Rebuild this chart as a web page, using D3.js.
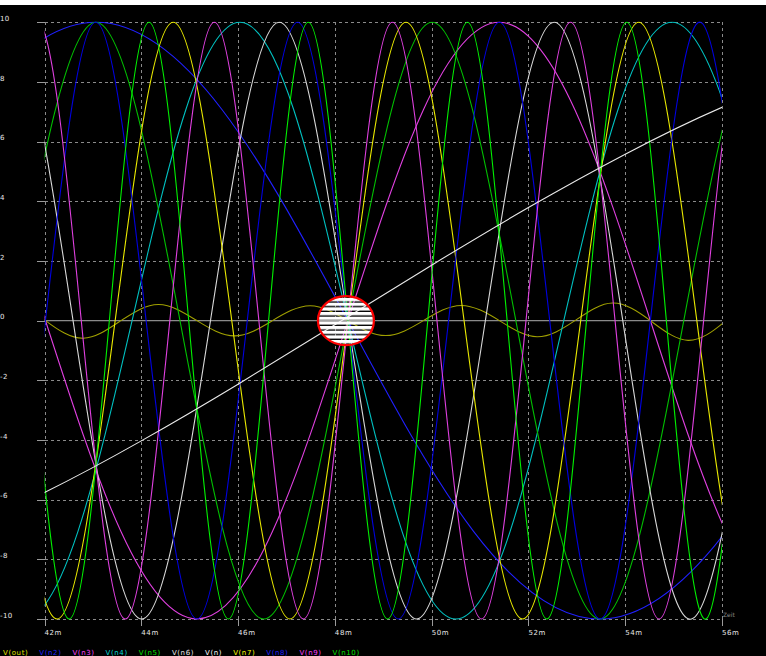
<!DOCTYPE html>
<html>
<head>
<meta charset="utf-8">
<script src="https://cdn.jsdelivr.net/npm/d3@7"></script>
<style>
  html, body { margin: 0; padding: 0; background: #ffffff; }
  #chart { width: 766px; height: 656px; overflow: hidden; }
  text { font-family: "DejaVu Sans", sans-serif; }
</style>
</head>
<body>
<div id="chart"></div>
<script>
// axis ticks (time in ms, voltage in V)
const xTicks = [42, 44, 46, 48, 50, 52, 54, 56];
const yTicks = [10, 8, 6, 4, 2, 0, -2, -4, -6, -8, -10];

const legendLabels = ["V(out)", "V(n2)", "V(n3)", "V(n4)", "V(n5)", "V(n6)", "V(n)", "V(n7)", "V(n8)", "V(n9)", "V(n10)"];
const legendColors = ["#e0e000", "#2020ff", "#ff40ff", "#00d8d8", "#00e000", "#e8e8e8", "#ffffff", "#ffff00", "#2020ff", "#ff40ff", "#00e000"];

// trace values: [time ms, volts] at peaks, troughs and zero crossings
const vOut = [[39.68,-0.77],[40.46,0],[41.24,0.66],[42.02,0],[42.80,-0.59],[43.58,0],[44.36,0.54],[45.15,0],[45.93,-0.51],[46.71,0],[47.49,0.50],[48.27,0],[49.05,-0.50],[49.83,0],[50.61,0.51],[51.40,0],[52.18,-0.54],[52.96,0],[53.74,0.59],[54.52,0],[55.30,-0.66],[56.08,0],[56.86,0.77],[57.65,0]];
const vN1 = [[40,-7.26],[42,-5.76],[44,-4.03],[46,-2.13],[48,-0.14],[50,1.86],[52,3.79],[54,5.58],[56,7.15],[58,8.43]];
const vN2 = [[32.65,-10],[35.25,-7.07],[37.85,0],[40.46,7.07],[43.06,10],[45.67,7.07],[48.27,0],[50.87,-7.07],[53.48,-10],[56.08,-7.07],[58.69,0],[61.29,7.07],[63.90,10]];
const vN3 = [[35.77,0],[37.33,7.07],[38.90,10],[40.46,7.07],[42.02,0],[43.58,-7.07],[45.15,-10],[46.71,-7.07],[48.27,0],[49.83,7.07],[51.40,10],[52.96,7.07],[54.52,0],[56.08,-7.07],[57.65,-10],[59.21,-7.07],[60.77,0]];
const vN4 = [[37.11,10],[38.23,7.07],[39.34,0],[40.46,-7.07],[41.57,-10],[42.69,-7.07],[43.81,0],[44.92,7.07],[46.04,10],[47.15,7.07],[48.27,0],[49.39,-7.07],[50.50,-10],[51.62,-7.07],[52.73,0],[53.85,7.07],[54.97,10],[56.08,7.07],[57.20,0],[58.32,-7.07],[59.43,-10]];
const vN5 = [[37.85,0],[39.59,-10],[41.33,0],[43.06,10],[44.80,0],[46.53,-10],[48.27,0],[50.01,10],[51.74,0],[53.48,-10],[55.21,0],[56.95,10],[58.69,0]];
const vN6 = [[38.33,-10],[39.75,0],[41.17,10],[42.59,0],[44.01,-10],[45.43,0],[46.85,10],[48.27,0],[49.69,-10],[51.11,0],[52.53,10],[53.95,0],[55.37,-10],[56.79,0],[58.21,10]];
const vN7 = [[38.66,0],[39.86,10],[41.06,0],[42.26,-10],[43.46,0],[44.66,10],[45.87,0],[47.07,-10],[48.27,0],[49.47,10],[50.67,0],[51.88,-10],[53.08,0],[54.28,10],[55.48,0],[56.68,-10],[57.89,0]];
const vN8 = [[38.90,10],[39.94,0],[40.98,-10],[42.02,0],[43.06,10],[44.10,0],[45.15,-10],[46.19,0],[47.23,10],[48.27,0],[49.31,-10],[50.35,0],[51.40,10],[52.44,0],[53.48,-10],[54.52,0],[55.56,10],[56.60,0],[57.65,-10]];
const vN9 = [[40.00,-10],[40.92,0],[41.84,10],[42.76,0],[43.67,-10],[44.59,0],[45.51,10],[46.43,0],[47.35,-10],[48.27,0],[49.19,10],[50.11,0],[51.03,-10],[51.95,0],[52.87,10],[53.79,0],[54.70,-10],[55.62,0],[56.54,10],[57.46,0]];
const vN10 = [[40.05,0],[40.87,10],[41.69,0],[42.51,-10],[43.34,0],[44.16,10],[44.98,0],[45.80,-10],[46.63,0],[47.45,10],[48.27,0],[49.09,-10],[49.92,0],[50.74,10],[51.56,0],[52.38,-10],[53.20,0],[54.03,10],[54.85,0],[55.67,-10],[56.49,0],[57.32,10]];

const traces = [
  { name: "V(out)", color: "#a0a000", values: vOut },
  { name: "V(n2)", color: "#2020ff", values: vN2 },
  { name: "V(n3)", color: "#e040e0", values: vN3 },
  { name: "V(n4)", color: "#00c0c0", values: vN4 },
  { name: "V(n5)", color: "#00c000", values: vN5 },
  { name: "V(n6)", color: "#d8d8d8", values: vN6 },
  { name: "V(n7)", color: "#e8e800", values: vN7 },
  { name: "V(n8)", color: "#0000e0", values: vN8 },
  { name: "V(n9)", color: "#e040e0", values: vN9 },
  { name: "V(n10)", color: "#00f000", values: vN10 },
  { name: "V(n)", color: "#e8e8e8", values: vN1 }
];

const W = 766, H = 656;
const plot = { left: 44.5, right: 722, top: 22.3, bottom: 619 };

const svg = d3.select("#chart").append("svg")
  .attr("width", W).attr("height", H)
  .attr("viewBox", `0 0 ${W} ${H}`);

svg.append("rect").attr("width", W).attr("height", H).attr("fill", "#ffffff");
svg.append("rect").attr("y", 5).attr("width", W).attr("height", H - 5).attr("fill", "#000000");

const x = d3.scaleLinear().domain([42, 56]).range([plot.left, plot.right]);
const y = d3.scaleLinear().domain([-10, 10]).range([plot.bottom, plot.top]);

// dashed grid
svg.append("g")
  .attr("transform", `translate(0,${plot.bottom})`)
  .call(d3.axisBottom(x).tickValues(xTicks).tickSize(-(plot.bottom - plot.top)).tickFormat(""))
  .call(g => g.select(".domain").remove())
  .call(g => g.selectAll("line").attr("stroke", "#8a8a8a").attr("stroke-dasharray", "3,3").attr("shape-rendering", "crispEdges"));

svg.append("g")
  .attr("transform", `translate(${plot.left},0)`)
  .call(d3.axisLeft(y).tickValues(yTicks.filter(d => d !== 0)).tickSize(-(plot.right - plot.left)).tickFormat(""))
  .call(g => g.select(".domain").remove())
  .call(g => g.selectAll("line").attr("stroke", "#8a8a8a").attr("stroke-dasharray", "3,3").attr("shape-rendering", "crispEdges"));

// tick stubs outside the frame
svg.append("g")
  .attr("transform", `translate(0,${plot.bottom})`)
  .call(d3.axisBottom(x).tickValues(xTicks).tickSize(7).tickFormat(""))
  .call(g => g.select(".domain").remove())
  .call(g => g.selectAll("line").attr("stroke", "#9a9a9a").attr("shape-rendering", "crispEdges"));

svg.append("g")
  .attr("transform", `translate(${plot.left},0)`)
  .call(d3.axisLeft(y).tickValues(yTicks).tickSize(8).tickFormat(""))
  .call(g => g.select(".domain").remove())
  .call(g => g.selectAll("line").attr("stroke", "#9a9a9a").attr("shape-rendering", "crispEdges"));

// solid zero line
svg.append("line")
  .attr("x1", plot.left).attr("x2", plot.right)
  .attr("y1", y(0)).attr("y2", y(0))
  .attr("stroke", "#8a8a8a").attr("stroke-width", 1.2);

// tick labels
svg.append("g").selectAll("text").data(xTicks).enter().append("text")
  .attr("x", d => x(d))
  .attr("y", 634.5)
  .attr("fill", "#e8e8e8")
  .style("font-size", "7px")
  .style("letter-spacing", "0.6px")
  .text(d => d + "m");

svg.append("g").selectAll("text").data(yTicks).enter().append("text")
  .attr("x", 0)
  .attr("y", d => y(d) - 1.3)
  .attr("fill", "#e8e8e8")
  .style("font-size", "7px")
  .style("letter-spacing", "0.4px")
  .text(d => d);

svg.append("text")
  .attr("x", plot.right + 1).attr("y", plot.bottom - 2)
  .attr("fill", "#8a8a8a")
  .style("font-size", "6px")
  .text("Zeit");

// traces
svg.append("clipPath").attr("id", "plotClip")
  .append("rect")
  .attr("x", plot.left).attr("y", plot.top - 1)
  .attr("width", plot.right - plot.left).attr("height", plot.bottom - plot.top + 2);

const line = d3.line()
  .x(d => x(d[0]))
  .y(d => y(d[1]))
  .curve(d3.curveNatural);

svg.append("g").attr("clip-path", "url(#plotClip)")
  .selectAll("path").data(traces).enter().append("path")
  .attr("d", d => line(d.values))
  .attr("fill", "none")
  .attr("stroke", d => d.color)
  .attr("stroke-width", 1.1);

// striped marker at the common crossing
const defs = svg.append("defs");
const pat = defs.append("pattern")
  .attr("id", "stripes")
  .attr("patternUnits", "userSpaceOnUse")
  .attr("x", 0).attr("y", y(0) + 0.7)
  .attr("width", 8).attr("height", 4.67);
pat.append("rect").attr("x", 0).attr("y", 0).attr("width", 8).attr("height", 3.3).attr("fill", "#ffffff");

svg.append("ellipse")
  .attr("cx", x(48.27) - 2).attr("cy", y(0))
  .attr("rx", 28).attr("ry", 24.5)
  .attr("fill", "url(#stripes)")
  .attr("stroke", "#ff0000")
  .attr("stroke-width", 2.2);

// legend along the bottom edge
const legend = svg.append("g");
let lx = 3;
legendLabels.forEach((label, i) => {
  const t = legend.append("text")
    .attr("x", lx).attr("y", 655)
    .attr("fill", legendColors[i])
    .style("font-size", "7px")
    .style("letter-spacing", "0.6px")
    .text(label);
  lx += t.node().getComputedTextLength() + 11;
});
</script>
</body>
</html>
